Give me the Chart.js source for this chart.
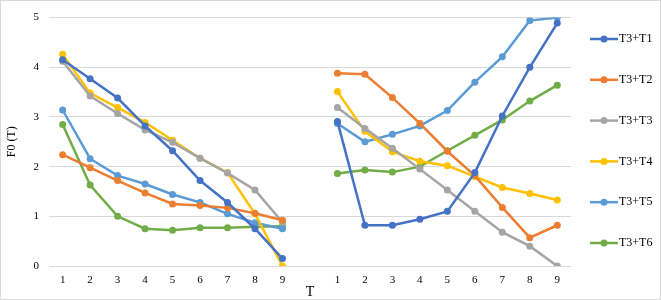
<!DOCTYPE html>
<html>
<head>
<meta charset="utf-8">
<script src="https://cdn.jsdelivr.net/npm/chart.js@4"></script>
<style>
  html, body { margin: 0; padding: 0; background: #fff; }
  #wrap { position: relative; width: 659px; height: 298px; border: 1px solid #d9d9d9; }
</style>
</head>
<body>
<div id="wrap"><canvas id="c" width="659" height="298"></canvas></div>
<script>
// two runs of T = 1..9, with an empty slot between them
const labels = ['1','2','3','4','5','6','7','8','9','','1','2','3','4','5','6','7','8','9'];
const seriesNames = ['T3+T1', 'T3+T2', 'T3+T3', 'T3+T4', 'T3+T5', 'T3+T6'];
const colors = ['#4472C4', '#ED7D31', '#A5A5A5', '#FFC000', '#5B9BD5', '#70AD47'];

const t1 = [4.15, 3.77, 3.38, 2.82, 2.32, 1.72, 1.28, 0.75, 0.15, null, 2.91, 0.82, 0.82, 0.94, 1.10, 1.88, 3.02, 4.00, 4.89];
const t2 = [2.24, 1.98, 1.72, 1.47, 1.25, 1.22, 1.17, 1.06, 0.92, null, 3.88, 3.86, 3.39, 2.87, 2.31, 1.82, 1.18, 0.57, 0.82];
const t3 = [4.12, 3.42, 3.07, 2.74, 2.49, 2.17, 1.87, 1.53, 0.88, null, 3.19, 2.77, 2.37, 1.95, 1.53, 1.10, 0.68, 0.40, 0.00];
const t4 = [4.26, 3.48, 3.19, 2.89, 2.53, 2.17, 1.88, 1.05, 0.00, null, 3.51, 2.71, 2.30, 2.11, 2.02, 1.80, 1.58, 1.46, 1.33];
const t5 = [3.14, 2.16, 1.82, 1.65, 1.44, 1.28, 1.05, 0.87, 0.75, null, 2.87, 2.50, 2.65, 2.82, 3.13, 3.70, 4.21, 4.94, 5.00];
const t6 = [2.85, 1.63, 1.00, 0.75, 0.72, 0.77, 0.77, 0.79, 0.80, null, 1.86, 1.93, 1.89, 2.00, 2.32, 2.63, 2.94, 3.32, 3.64];
const series = [t1, t2, t3, t4, t5, t6];

const serif = "'Liberation Serif', 'DejaVu Serif', serif";

// legend on the right, drawn like Excel's: short line with a marker, then text
const sideLegend = {
  id: 'sideLegend',
  afterDraw(chart) {
    const ctx = chart.ctx;
    const x0 = 589, x1 = 617, top = 38, step = 40.8;
    ctx.save();
    chart.data.datasets.forEach((ds, i) => {
      const y = top + i * step;
      ctx.strokeStyle = ds.borderColor;
      ctx.lineWidth = 2.5;
      ctx.beginPath();
      ctx.moveTo(x0, y);
      ctx.lineTo(x1, y);
      ctx.stroke();
      ctx.fillStyle = ds.borderColor;
      ctx.beginPath();
      ctx.arc((x0 + x1) / 2, y, 3.5, 0, Math.PI * 2);
      ctx.fill();
      ctx.fillStyle = '#000';
      ctx.font = '12px ' + serif;
      ctx.textBaseline = 'middle';
      ctx.textAlign = 'left';
      ctx.fillText(ds.label, x1 + 1, y);
    });
    ctx.restore();
  }
};

new Chart(document.getElementById('c'), {
  type: 'line',
  data: {
    labels: labels,
    datasets: series.map((d, i) => ({
      label: seriesNames[i],
      data: d,
      borderColor: colors[i],
      backgroundColor: colors[i],
      borderWidth: 2.5,
      pointRadius: 3.5,
      pointHoverRadius: 3.5,
      pointBorderWidth: 0,
      tension: 0,
      spanGaps: false
    }))
  },
  options: {
    responsive: false,
    animation: false,
    layout: { padding: { left: 4, right: 89, top: 2, bottom: 0 } },
    plugins: {
      legend: { display: false },
      tooltip: { enabled: false }
    },
    scales: {
      x: {
        offset: true,
        grid: { display: false },
        border: { display: false },
        ticks: { color: '#000', font: { family: serif, size: 11 }, autoSkip: false, maxRotation: 0, padding: 0 },
        title: { display: true, text: 'T', color: '#000', font: { family: serif, size: 14 }, padding: { top: -3, bottom: -2 } }
      },
      y: {
        min: 0,
        max: 5,
        grid: { color: '#d9d9d9', drawTicks: false, lineWidth: 1 },
        border: { display: false },
        ticks: { stepSize: 1, color: '#000', font: { family: serif, size: 11 }, padding: 10 },
        title: { display: true, text: 'F0 (T)', color: '#000', font: { family: serif, size: 12 }, padding: { top: 0, bottom: 4 } }
      }
    }
  },
  plugins: [sideLegend]
});
</script>
</body>
</html>
